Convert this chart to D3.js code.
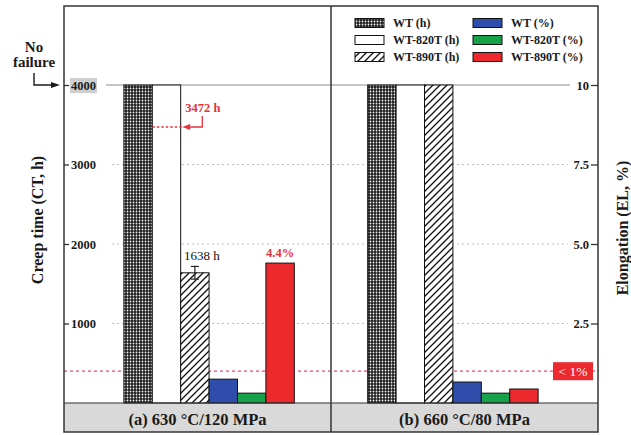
<!DOCTYPE html>
<html><head><meta charset="utf-8">
<script src="https://cdn.jsdelivr.net/npm/d3@7"></script>
<style>
body{margin:0;background:#fff}
svg{display:block;font-family:"Liberation Serif","Times New Roman",serif;font-weight:bold}
</style>
</head><body>
<svg id="chart" width="631" height="435"></svg>
<script>
// Test conditions (panels) and the six series drawn in each panel
const conditions = ["(a) 630 °C/120 MPa", "(b) 660 °C/80 MPa"];
const seriesNames = ["WT (h)", "WT-820T (h)", "WT-890T (h)", "WT (%)", "WT-820T (%)", "WT-890T (%)"];

// Creep time, hours (4000 h = test stopped without failure)
const creepTimeWT   = [4000, 4000];
const creepTime820T = [4000, 4000];
const creepTime890T = [1638, 4000];
const creepErr890T  = [80, 0];

// Elongation after creep, %
const elongWT   = [0.75, 0.66];
const elong820T = [0.31, 0.31];
const elong890T = [4.4, 0.44];

// Axis ticks and reference levels
const creepTicks = [1000, 2000, 3000, 4000];
const elongTicks = [2.5, 5.0, 7.5, 10];
const noFailureTime = 4000;
const interruptedTime = 3472;
const elongLimit = 1;

const series = [
  {name: seriesNames[0], unit: "h", values: creepTimeWT,   fill: "url(#dots)"},
  {name: seriesNames[1], unit: "h", values: creepTime820T, fill: "#ffffff"},
  {name: seriesNames[2], unit: "h", values: creepTime890T, fill: "url(#hatch)", err: creepErr890T},
  {name: seriesNames[3], unit: "%", values: elongWT,   fill: "#2f4eab"},
  {name: seriesNames[4], unit: "%", values: elong820T, fill: "#17a24a"},
  {name: seriesNames[5], unit: "%", values: elong890T, fill: "#ec2a2e"}
];

const L = 64, R = 598, T = 6, BASE = 403, BOTTOM = 432;
const RED = "#e8323a", PINK = "#e2457f";

const svg = d3.select("#chart");
const defs = svg.append("defs");

// cross-dotted fill
const dots = defs.append("pattern").attr("id", "dots").attr("patternUnits", "userSpaceOnUse")
  .attr("width", 3).attr("height", 3);
dots.append("rect").attr("width", 3).attr("height", 3).attr("fill", "#1c1c1c");
dots.append("circle").attr("cx", 1.5).attr("cy", 1.5).attr("r", 0.9).attr("fill", "#f4f4f4");

// diagonal hatch
const hatch = defs.append("pattern").attr("id", "hatch").attr("patternUnits", "userSpaceOnUse")
  .attr("width", 7).attr("height", 7);
hatch.append("rect").attr("width", 7).attr("height", 7).attr("fill", "#fff");
hatch.append("path").attr("d", "M-1.75,1.75 L1.75,-1.75 M0,7 L7,0 M5.25,8.75 L8.75,5.25")
  .attr("stroke", "#111").attr("stroke-width", 1.3);

const x0 = d3.scaleBand().domain(conditions).range([L, R]);
const panelAlign = [0.62, 0.38];
const x1 = conditions.map((c, i) => d3.scaleBand().domain(seriesNames)
  .range([0, x0.bandwidth()]).paddingInner(0).paddingOuter(1.7).align(panelAlign[i]));

const yH = d3.scaleLinear().domain([0, 4000]).range([BASE, 85]);
const yP = d3.scaleLinear().domain([0, 10]).range([BASE, 85]);

// condition band below the bars
svg.append("rect").attr("x", L).attr("y", BASE).attr("width", R - L).attr("height", BOTTOM - BASE)
  .attr("fill", "#d9d9d9");
svg.append("g").selectAll("text").data(conditions).join("text")
  .attr("x", d => x0(d) + x0.bandwidth() / 2).attr("y", 425)
  .attr("text-anchor", "middle").attr("font-size", 16.5).attr("fill", "#1a1a1a").text(d => d);

// grid lines
svg.append("g").selectAll("line").data(creepTicks.filter(d => d !== noFailureTime)).join("line")
  .attr("x1", 112).attr("x2", 568).attr("y1", d => yH(d)).attr("y2", d => yH(d))
  .attr("stroke", "#bdbdbd").attr("stroke-width", 1).attr("stroke-dasharray", "2,3");
svg.append("line").attr("x1", 106).attr("x2", 570).attr("y1", yH(noFailureTime)).attr("y2", yH(noFailureTime))
  .attr("stroke", "#b3b3b3").attr("stroke-width", 1.6);
svg.append("line").attr("x1", L).attr("x2", R).attr("y1", yP(elongLimit)).attr("y2", yP(elongLimit))
  .attr("stroke", PINK).attr("stroke-width", 1.2).attr("stroke-dasharray", "3,3");

// bars
const bars = [];
conditions.forEach((c, i) => {
  series.forEach(s => {
    const y = s.unit === "h" ? yH : yP;
    bars.push({c, i, s, x: x0(c) + x1[i](s.name), w: x1[i].bandwidth(), y: y(s.values[i]), v: s.values[i]});
  });
});
svg.append("g").selectAll("rect").data(bars).join("rect")
  .attr("x", d => d.x).attr("y", d => d.y).attr("width", d => d.w).attr("height", d => BASE - d.y)
  .attr("fill", d => d.s.fill).attr("stroke", "#111").attr("stroke-width", 1);

// error bar on the WT-890T creep time
bars.filter(d => d.s.err && d.s.err[d.i] > 0).forEach(d => {
  const cx = d.x + d.w / 2, e = d.s.err[d.i];
  const g = svg.append("g").attr("stroke", "#222").attr("stroke-width", 1.2);
  g.append("line").attr("x1", cx).attr("x2", cx).attr("y1", yH(d.v + e)).attr("y2", yH(d.v - e));
  g.append("line").attr("x1", cx - 4).attr("x2", cx + 4).attr("y1", yH(d.v + e)).attr("y2", yH(d.v + e));
  g.append("line").attr("x1", cx - 4).attr("x2", cx + 4).attr("y1", yH(d.v - e)).attr("y2", yH(d.v - e));
  svg.append("text").attr("x", cx + 7).attr("y", yH(d.v + e) - 6).attr("text-anchor", "middle")
    .attr("font-size", 13).attr("font-weight", "normal").attr("fill", "#111").text(d.v + " h");
});

// value label on the WT-890T elongation in panel (a)
const redA = bars.find(d => d.i === 0 && d.s.name === "WT-890T (%)");
svg.append("text").attr("x", redA.x + redA.w / 2).attr("y", redA.y - 6).attr("text-anchor", "middle")
  .attr("font-size", 12.5).attr("fill", RED).text(redA.v + "%");

// interrupted-test marker at 3472 h
const wtA = bars.find(d => d.i === 0 && d.s.name === "WT (h)");
const yI = yH(interruptedTime);
svg.append("line").attr("x1", wtA.x + wtA.w).attr("x2", wtA.x + wtA.w + 30).attr("y1", yI).attr("y2", yI)
  .attr("stroke", RED).attr("stroke-width", 1.3).attr("stroke-dasharray", "2.5,2");
svg.append("path").attr("d", `M${wtA.x + wtA.w + 50},${yI - 11} V${yI} H${wtA.x + wtA.w + 38}`)
  .attr("fill", "none").attr("stroke", RED).attr("stroke-width", 1.3);
svg.append("path").attr("d", `M${wtA.x + wtA.w + 30},${yI} l8,-3 v6 z`).attr("fill", RED);
svg.append("text").attr("x", wtA.x + wtA.w + 33).attr("y", yI - 15).attr("font-size", 12.5)
  .attr("fill", RED).text(interruptedTime + " h");

// frame
svg.append("rect").attr("x", L).attr("y", T).attr("width", R - L).attr("height", BOTTOM - T)
  .attr("fill", "none").attr("stroke", "#333").attr("stroke-width", 1.5);
svg.append("line").attr("x1", x0(conditions[1])).attr("x2", x0(conditions[1])).attr("y1", T).attr("y2", BOTTOM)
  .attr("stroke", "#333").attr("stroke-width", 1.5);
svg.append("line").attr("x1", L).attr("x2", R).attr("y1", BASE).attr("y2", BASE)
  .attr("stroke", "#333").attr("stroke-width", 1.2);

// axes, ticks pointing into the plot
const axL = svg.append("g").attr("transform", `translate(${L},0)`)
  .call(d3.axisRight(yH).tickValues(creepTicks).tickSize(5).tickPadding(2).tickFormat(d3.format("d")));
const axR = svg.append("g").attr("transform", `translate(${R},0)`)
  .call(d3.axisLeft(yP).tickValues(elongTicks).tickSize(7).tickPadding(2)
    .tickFormat(d => d === 10 ? "10" : d3.format(".1f")(d)));
[axL, axR].forEach(ax => {
  ax.select(".domain").remove();
  ax.attr("font-family", null).attr("font-size", 12.5);
  ax.selectAll(".tick line").attr("stroke", "#333").attr("stroke-width", 1.3);
  ax.selectAll(".tick text").attr("fill", "#1a1a1a");
});
// shaded box behind the 4000 h label
axL.selectAll(".tick").filter(d => d === noFailureTime).each(function () {
  const t = d3.select(this).select("text");
  const bb = t.node().getBBox();
  d3.select(this).insert("rect", "text").attr("x", bb.x - 1).attr("y", bb.y - 0.5)
    .attr("width", bb.width + 2).attr("height", bb.height + 1).attr("fill", "#cfcfcf");
});

// "< 1%" tag on the elongation limit line
const tagW = 40, tagH = 18;
svg.append("rect").attr("x", 553).attr("y", yP(elongLimit) - tagH / 2).attr("width", tagW).attr("height", tagH)
  .attr("fill", "#ec2a2e");
svg.append("text").attr("x", 553 + tagW / 2).attr("y", yP(elongLimit) + 5).attr("text-anchor", "middle")
  .attr("font-size", 13.5).attr("font-weight", "normal").attr("fill", "#fff").text("< 1%");

// axis titles
svg.append("text").attr("transform", `translate(43,220) rotate(-90)`).attr("text-anchor", "middle")
  .attr("font-size", 16).attr("fill", "#1a1a1a").text("Creep time (CT, h)");
svg.append("text").attr("transform", `translate(628,228) rotate(-90)`).attr("text-anchor", "middle")
  .attr("font-size", 16).attr("fill", "#1a1a1a").text("Elongation (EL, %)");

// "No failure" note with bent arrow to the 4000 h line
svg.append("text").attr("x", 34).attr("y", 52).attr("text-anchor", "middle").attr("font-size", 15)
  .attr("fill", "#1a1a1a").text("No");
svg.append("text").attr("x", 34).attr("y", 67).attr("text-anchor", "middle").attr("font-size", 15)
  .attr("fill", "#1a1a1a").text("failure");
svg.append("path").attr("d", `M34,73 V${yH(noFailureTime)} H52`).attr("fill", "none")
  .attr("stroke", "#1a1a1a").attr("stroke-width", 1.4);
svg.append("path").attr("d", `M60,${yH(noFailureTime)} l-9,-3 v6 z`).attr("fill", "#1a1a1a");

// legend
const legendRows = [23, 40, 57], legendCols = [355, 473];
const lg = svg.append("g").selectAll("g").data(series).join("g")
  .attr("transform", (d, i) => `translate(${legendCols[Math.floor(i / 3)]},${legendRows[i % 3]})`);
lg.append("rect").attr("x", 0).attr("y", -4.5).attr("width", 29).attr("height", 9)
  .attr("fill", d => d.fill).attr("stroke", "#111").attr("stroke-width", 1);
lg.append("text").attr("x", 38).attr("y", 4).attr("font-size", 12).attr("fill", "#1a1a1a").text(d => d.name);
</script>
</body></html>
